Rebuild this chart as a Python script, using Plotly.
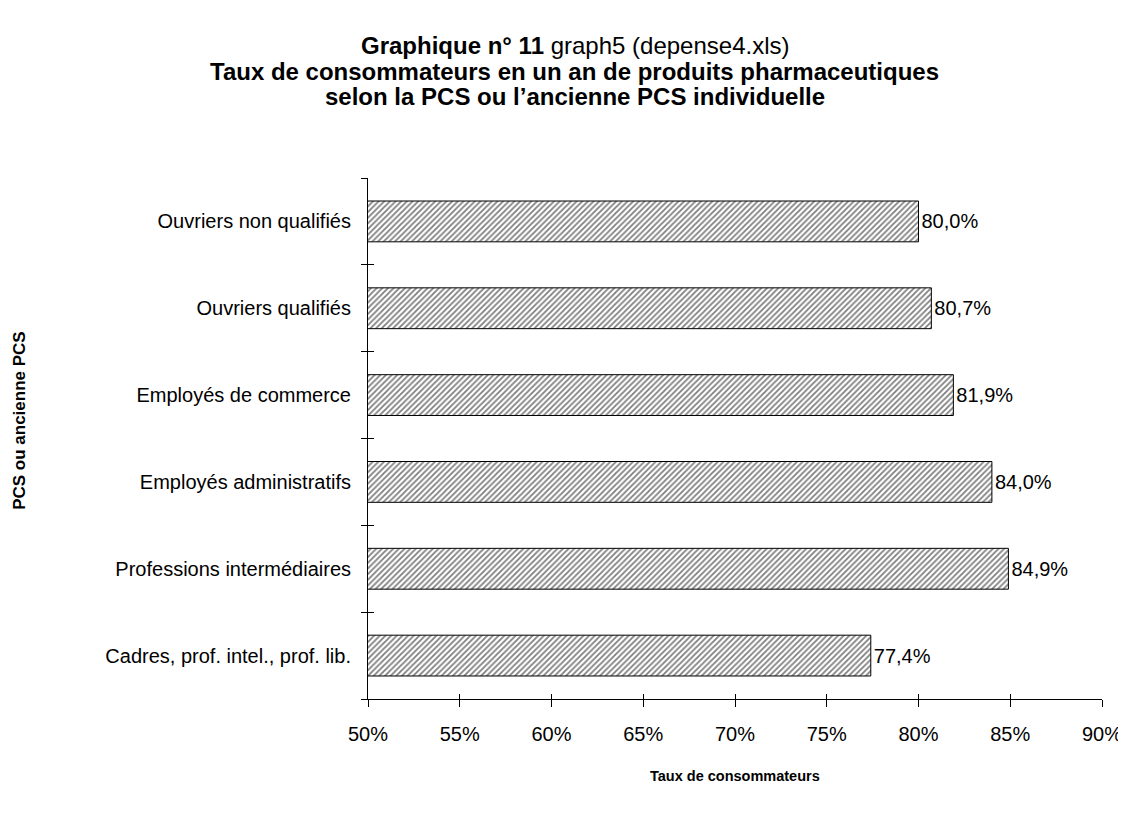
import plotly.graph_objects as go

categories = [
    "Cadres, prof. intel., prof. lib.",
    "Professions intermédiaires",
    "Employés administratifs",
    "Employés de commerce",
    "Ouvriers qualifiés",
    "Ouvriers non qualifiés",
]
values = [77.4, 84.9, 84.0, 81.9, 80.7, 80.0]
x_ticks = [50, 55, 60, 65, 70, 75, 80, 85, 90]
x_tick_labels = [f"{v}%" for v in x_ticks]
labels = [f"{v:.1f}%".replace(".", ",") for v in values]

title_lines = [
    "<b>Graphique n° 11</b> graph5 (depense4.xls)",
    "<b>Taux de consommateurs en un an de produits pharmaceutiques</b>",
    "<b>selon la PCS ou l’ancienne PCS individuelle</b>",
]
title_y = [1.2534, 1.2035, 1.1555]

FONT = "Liberation Sans, Arial, sans-serif"
YRANGE = [-0.5, len(categories) - 0.5]

fig = go.Figure()
fig.add_trace(
    go.Bar(
        y=categories,
        x=values,
        orientation="h",
        text=labels,
        textposition="outside",
        textfont=dict(size=20, color="black", family=FONT),
        cliponaxis=False,
        marker=dict(
            color="white",
            line=dict(color="black", width=1),
            pattern=dict(shape="/", fgcolor="black", bgcolor="white", size=4, solidity=0.45),
        ),
        hoverinfo="skip",
    )
)
# invisible helper trace carrying the overlay axes (inner half of the crossing ticks)
fig.add_trace(
    go.Scatter(
        y=categories,
        x=values,
        xaxis="x2",
        yaxis="y2",
        mode="markers",
        marker=dict(opacity=0),
        hoverinfo="skip",
        showlegend=False,
    )
)

annotations = [
    dict(
        text=t,
        xref="paper",
        yref="paper",
        x=0.282,
        y=yy,
        xanchor="center",
        yanchor="middle",
        showarrow=False,
        font=dict(size=24, family=FONT, color="black"),
    )
    for t, yy in zip(title_lines, title_y)
]
annotations += [
    dict(
        text="<b>PCS ou ancienne PCS</b>",
        textangle=-90,
        xref="paper",
        yref="paper",
        x=-0.474,
        y=0.534,
        xanchor="center",
        yanchor="middle",
        showarrow=False,
        font=dict(size=17, family=FONT, color="black"),
    ),
    dict(
        text="<b>Taux de consommateurs</b>",
        xref="paper",
        yref="paper",
        x=0.5,
        y=-0.148,
        xanchor="center",
        yanchor="middle",
        showarrow=False,
        font=dict(size=14.5, family=FONT, color="black"),
    ),
]

fig.update_layout(
    width=1118,
    height=800,
    paper_bgcolor="white",
    plot_bgcolor="white",
    margin=dict(l=360, r=24, t=170, b=109, autoexpand=False),
    bargap=0.53,
    showlegend=False,
    font=dict(family=FONT, color="black", size=20),
    xaxis=dict(
        range=[50, 90],
        tickvals=x_ticks,
        ticktext=x_tick_labels,
        automargin=False,
        showgrid=False,
        zeroline=False,
        showline=True,
        linecolor="black",
        linewidth=1,
        ticks="outside",
        ticklen=7,
        tickcolor="black",
        ticklabelstandoff=10,
        tickfont=dict(size=20),
    ),
    xaxis2=dict(
        overlaying="x",
        range=[50, 90],
        side="bottom",
        tickvals=x_ticks,
        automargin=False,
        showticklabels=False,
        showgrid=False,
        zeroline=False,
        showline=False,
        ticks="inside",
        ticklen=5,
        tickcolor="black",
    ),
    yaxis=dict(
        categoryorder="array",
        categoryarray=categories,
        range=YRANGE,
        automargin=False,
        tickson="boundaries",
        ticks="outside",
        ticklen=6,
        tickcolor="black",
        showgrid=False,
        showline=True,
        linecolor="black",
        linewidth=1,
        ticklabelstandoff=12,
        tickfont=dict(size=20),
    ),
    yaxis2=dict(
        overlaying="y",
        side="left",
        categoryorder="array",
        categoryarray=categories,
        range=YRANGE,
        automargin=False,
        tickson="boundaries",
        ticks="inside",
        ticklen=6,
        tickcolor="black",
        showticklabels=False,
        showgrid=False,
        showline=False,
    ),
    annotations=annotations,
)

fig.write_html("out.html")
